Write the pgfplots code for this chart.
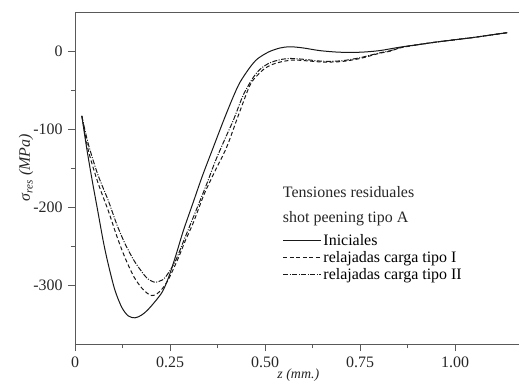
\documentclass[border=0pt]{standalone}
\usepackage{fontspec}
\setmainfont{Liberation Serif}
\usepackage{pgfplots}
\pgfplotsset{compat=1.18}
\begin{document}
\fontsize{16}{19}\selectfont
\begin{tikzpicture}
\begin{axis}[
  scale only axis, width=444bp, height=332bp,
  xmin=0, xmax=1.168, ymin=-375, ymax=50,
  axis x line*=box, axis y line*=left,
  x axis line style={-}, y axis line style={-},
  axis line style={black!65, line width=0.9bp},
  xtick pos=bottom,
  xtick={0,0.25,0.5,0.75,1}, xticklabels={0,0.25,0.50,0.75,1.00},
  ytick={-300,-200,-100,0}, yticklabels={-300,-200,-100,0},
  minor x tick num=1, minor y tick num=1,
  tick align=outside,
  major tick length=7bp, minor tick length=4bp,
  every tick/.style={black!65, line width=0.9bp},
  tick label style={font=\fontsize{16}{19}\selectfont, text=black!85},
  xlabel={\textit{z (mm.)}},
  ylabel={\textit{σ}\textsubscript{\textit{res}} \textit{(MPa)}},
  xlabel style={at={(axis description cs:0.503,-0.093)}, anchor=center, font=\fontsize{14}{17}\selectfont, text=black!85},
  ylabel style={at={(axis description cs:-0.11,0.53)}, anchor=center, font=\fontsize{16}{19}\selectfont, text=black!85},
  legend style={at={(axis description cs:0.468,0.336)}, anchor=north west, draw=none, fill=none,
    inner sep=0pt, row sep=0.5bp, font=\fontsize{16}{17}\selectfont, nodes={inner sep=1.5bp}},
  legend cell align=left,
  legend image code/.code={\draw[#1] (0bp,0bp) -- (38bp,0bp);},
  clip=false,
]
\addplot[black!90, line width=1bp, smooth] coordinates {
(0.018,-83) (0.03,-122) (0.045,-165) (0.06,-205) (0.075,-245) (0.088,-274)
(0.105,-306) (0.123,-328) (0.14,-339) (0.158,-341.5) (0.175,-338) (0.19,-332)
(0.21,-321) (0.23,-308) (0.246,-290) (0.265,-262) (0.285,-230) (0.31,-195)
(0.335,-160) (0.364,-123) (0.39,-90) (0.415,-60) (0.434,-40) (0.46,-21)
(0.48,-10) (0.51,-1) (0.54,4) (0.566,5.5) (0.6,4) (0.645,0.5) (0.697,-1.5)
(0.75,-1.5) (0.8,0.5) (0.855,5) (0.9,8) (0.95,11.5) (1.0,14.5) (1.05,17.5)
(1.1,21) (1.137,23.5)
};
\addlegendentry{Iniciales}
\addplot[black!90, line width=1bp, smooth, dash pattern=on 4bp off 2.5bp] coordinates {
(0.018,-83) (0.035,-127) (0.06,-168) (0.088,-205) (0.11,-237) (0.132,-265)
(0.155,-289) (0.175,-303) (0.19,-310) (0.202,-313) (0.215,-311) (0.23,-304)
(0.246,-292) (0.27,-267) (0.29,-243) (0.311,-220) (0.34,-183) (0.37,-152) (0.399,-123)
(0.43,-82) (0.46,-44) (0.48,-31) (0.5,-22) (0.52,-17) (0.545,-13.5) (0.575,-11.5)
(0.61,-12.5) (0.65,-14) (0.7,-13.5) (0.75,-9.5) (0.8,-3) (0.83,0) (0.855,4)
(0.9,8) (0.95,11.5) (1.0,14.5) (1.05,17.5) (1.1,21) (1.137,23.5)
};
\addlegendentry{relajadas carga tipo I}
\addplot[black!90, line width=1bp, smooth, dash pattern=on 5bp off 1.5bp on 1bp off 1.5bp] coordinates {
(0.018,-83) (0.035,-119) (0.06,-158) (0.088,-192) (0.11,-222) (0.132,-247)
(0.155,-268) (0.175,-282) (0.19,-291) (0.21,-296) (0.225,-294) (0.237,-290)
(0.263,-270) (0.29,-238) (0.316,-207) (0.345,-172) (0.37,-140) (0.395,-112)
(0.417,-88) (0.443,-56) (0.47,-33) (0.49,-22) (0.513,-15) (0.54,-11) (0.566,-9.5)
(0.6,-10.5) (0.65,-13) (0.7,-12.5) (0.75,-8.5) (0.8,-2.5) (0.83,0.5) (0.855,4.5)
(0.9,8) (0.95,11.5) (1.0,14.5) (1.05,17.5) (1.1,21) (1.137,23.5)
};
\addlegendentry{relajadas carga tipo II}
\node[anchor=base west, inner sep=0pt, font=\fontsize{16}{19}\selectfont, text=black!85] at (axis description cs:0.468,0.44) {Tensiones residuales};
\node[anchor=base west, inner sep=0pt, font=\fontsize{16}{19}\selectfont, text=black!85] at (axis description cs:0.468,0.367) {shot peening tipo A};
\coordinate (SW) at (rel axis cs:0,0);
\coordinate (NE) at (rel axis cs:1,1);
\end{axis}
\pgfresetboundingbox
\path ([xshift=-75bp,yshift=-37bp]SW) rectangle ([xshift=1bp,yshift=12bp]NE);
\end{tikzpicture}
\end{document}
